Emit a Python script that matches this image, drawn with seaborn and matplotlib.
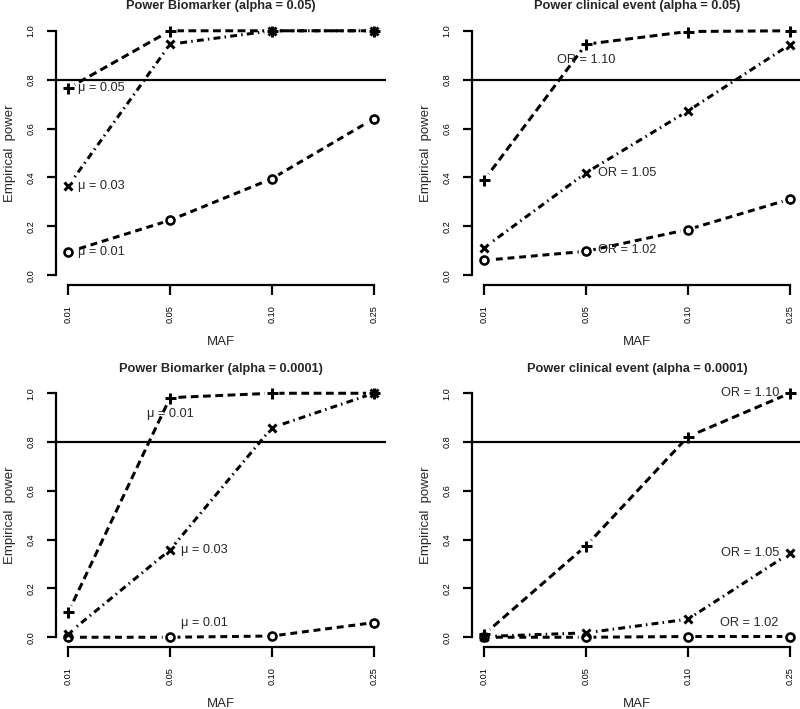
import numpy as np
import pandas as pd
import matplotlib
matplotlib.use("Agg")
import matplotlib.pyplot as plt
import seaborn as sns

sns.set_style("ticks")
plt.rcParams['font.family'] = ['Liberation Sans', 'DejaVu Sans']

# ---------------- data ----------------
maf_labels = ["0.01", "0.05", "0.10", "0.25"]
y_ticks = [0.0, 0.2, 0.4, 0.6, 0.8, 1.0]
threshold = 0.8

# Power Biomarker (alpha = 0.05)
bio05_mu005 = [0.765, 1.00, 1.00, 1.00]
bio05_mu003 = [0.365, 0.945, 1.00, 1.00]
bio05_mu001 = [0.095, 0.225, 0.395, 0.640]

# Power clinical event (alpha = 0.05)
cli05_or110 = [0.390, 0.945, 0.997, 1.00]
cli05_or105 = [0.113, 0.419, 0.672, 0.943]
cli05_or102 = [0.061, 0.098, 0.187, 0.311]

# Power Biomarker (alpha = 0.0001)
bio0001_mu005 = [0.102, 0.982, 1.00, 1.00]
bio0001_mu003 = [0.015, 0.358, 0.859, 1.00]
bio0001_mu001 = [0.000, 0.000, 0.005, 0.060]

# Power clinical event (alpha = 0.0001)
cli0001_or110 = [0.012, 0.375, 0.822, 1.00]
cli0001_or105 = [0.003, 0.018, 0.074, 0.344]
cli0001_or102 = [0.000, 0.000, 0.003, 0.003]

titles = ["Power Biomarker (alpha = 0.05)", "Power clinical event (alpha = 0.05)",
          "Power Biomarker (alpha = 0.0001)", "Power clinical event (alpha = 0.0001)"]

# ---------------- layout ----------------
W, H, DPI = 800, 709, 100
fig = plt.figure(figsize=(W / DPI, H / DPI), dpi=DPI)

def px(v):  # pixels -> points
    return v * 72.0 / DPI

# plot regions in pixels (left, top, right, bottom)
regions = [(56, 21, 386, 285), (472, 21, 802, 285),
           (56, 383.5, 386, 647), (472, 383.5, 802, 647)]

LW = px(3.0)
DASH = (0, (2.3, 1.6))
DASHDOT = (0, (2.3, 1.4, 0.5, 1.4))
LONGDASH = (0, (2.6, 1.5))

marker_styles = {
    "+": dict(marker="+", markersize=px(11), markeredgewidth=px(3.0)),
    "x": dict(marker="x", markersize=px(8), markeredgewidth=px(3.0)),
    "o": dict(marker="o", markersize=px(8), markeredgewidth=px(2.6), markerfacecolor="none"),
}

panels = [
    [(bio05_mu005, "+", LONGDASH), (bio05_mu003, "x", DASHDOT), (bio05_mu001, "o", DASH)],
    [(cli05_or110, "+", LONGDASH), (cli05_or105, "x", DASHDOT), (cli05_or102, "o", DASH)],
    [(bio0001_mu005, "+", LONGDASH), (bio0001_mu003, "x", DASHDOT), (bio0001_mu001, "o", DASH)],
    [(cli0001_or110, "+", LONGDASH), (cli0001_or105, "x", DASHDOT), (cli0001_or102, "o", DASH)],
]

# annotations: (panel, series index, point index, text, dx px, dy px, ha)
annots = [
    (0, 0, 0, "\u03bc = 0.05", 10, 0, "left"),
    (0, 1, 0, "\u03bc = 0.03", 10, 0, "left"),
    (0, 2, 0, "\u03bc = 0.01", 10, 0, "left"),
    (1, 0, 1, "OR = 1.10", 0, -16, "center"),
    (1, 1, 1, "OR = 1.05", 12, 0, "left"),
    (1, 2, 1, "OR = 1.02", 12, 1, "left"),
    (2, 0, 1, "\u03bc = 0.01", 0, -16, "center"),
    (2, 1, 1, "\u03bc = 0.03", 11, 0, "left"),
    (2, 2, 1, "\u03bc = 0.01", 11, 14, "left"),
    (3, 0, 3, "OR = 1.10", -10, 0, "right"),
    (3, 1, 3, "OR = 1.05", -10, 0, "right"),
    (3, 2, 3, "OR = 1.02", -11, 14, "right"),
]

positions = np.arange(1, len(maf_labels) + 1)
axes = []
for i, (l, t, r, b) in enumerate(regions):
    ax = fig.add_axes([l / W, (H - b) / H, (r - l) / W, (b - t) / H])
    ax.set_facecolor("none")
    axes.append(ax)
    for vals, mk, ls in panels[i]:
        df = pd.DataFrame({"pos": positions, "power": vals})
        # connecting line
        sns.lineplot(data=df, x="pos", y="power", ax=ax, color="black",
                     linestyle=ls, linewidth=LW, legend=False, sort=False,
                     errorbar=None, zorder=2)
        # white gap around points (R type = "b")
        sns.scatterplot(data=df, x="pos", y="power", ax=ax, color="white",
                        s=px(15) ** 2, marker="o", edgecolor="none", linewidth=0,
                        legend=False, zorder=2.5, clip_on=False)
    for vals, mk, ls in panels[i]:
        df = pd.DataFrame({"pos": positions, "power": vals})
        sns.lineplot(data=df, x="pos", y="power", ax=ax, color="black",
                     linestyle="none", markeredgecolor="black", legend=False,
                     sort=False, errorbar=None, clip_on=False, zorder=4,
                     **marker_styles[mk])
    ax.axhline(threshold, color="black", lw=px(2.2), zorder=3)
    ax.set_xlim(0.88, 4.12)
    ax.set_ylim(-0.04, 1.04)
    ax.set_xticks(positions)
    ax.set_xticklabels(maf_labels, rotation=90, fontsize=6.6)
    ax.set_yticks(y_ticks)
    ax.set_yticklabels([f"{v:.1f}" for v in y_ticks], rotation=90, va="center", fontsize=6.6)
    ax.tick_params(direction="out", length=px(9.5), width=px(2.2), pad=px(11), colors="black")
    for s in ["top", "right"]:
        ax.spines[s].set_visible(False)
    ax.spines["left"].set_bounds(0, 1)
    ax.spines["bottom"].set_bounds(1, 4)
    for s in ["left", "bottom"]:
        ax.spines[s].set_linewidth(px(2.2))
        ax.spines[s].set_color("black")
    ax.set_xlabel("")
    ax.set_ylabel("")
    # titles and axis labels
    cx = (l + r) / 2
    fig.text(cx / W, 1 - (t - 14.5) / H, titles[i], ha="center", va="center",
             fontsize=9.2, fontweight="bold")
    fig.text(cx / W, 1 - (b + 57) / H, "MAF", ha="center", va="center", fontsize=9.5)
    fig.text((l - 46) / W, 1 - ((t + b) / 2) / H, "Empirical  power", ha="center",
             va="center", rotation=90, fontsize=9.5)

for p, si, pi, txt, dx, dy, ha in annots:
    vals = panels[p][si][0]
    axes[p].annotate(txt, xy=(positions[pi], vals[pi]), xytext=(px(dx), px(dy)),
                     textcoords="offset points", ha=ha, va="center", fontsize=9.2,
                     zorder=5)

fig.savefig("out.png", dpi=DPI, facecolor="white")
